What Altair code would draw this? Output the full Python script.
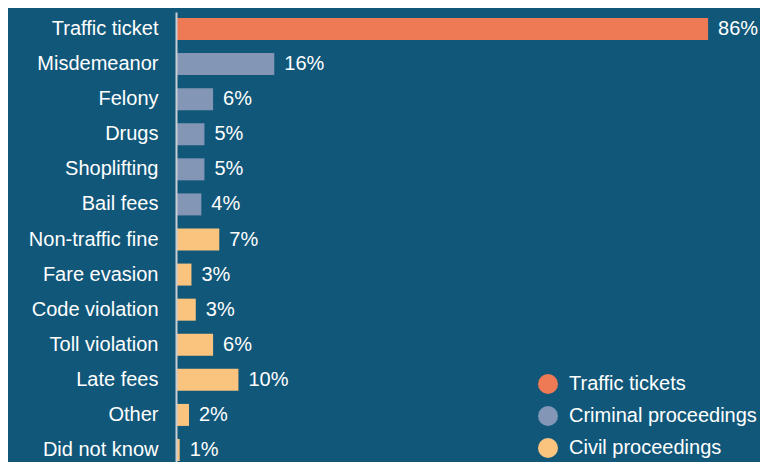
import altair as alt
import pandas as pd

categories = ["Traffic ticket", "Misdemeanor", "Felony", "Drugs", "Shoplifting",
              "Bail fees", "Non-traffic fine", "Fare evasion", "Code violation",
              "Toll violation", "Late fees", "Other", "Did not know"]
values = [86.1, 15.9, 6.0, 4.6, 4.6, 4.1, 7.0, 2.5, 3.2, 6.0, 10.1, 2.1, 0.6]
value_labels = ["86%", "16%", "6%", "5%", "5%", "4%", "7%", "3%", "3%", "6%",
                "10%", "2%", "1%"]
groups = (["Traffic tickets"] + ["Criminal proceedings"] * 5
          + ["Civil proceedings"] * 7)
group_order = ["Traffic tickets", "Criminal proceedings", "Civil proceedings"]
group_colors = ["#EE7A55", "#8396B5", "#FAC47E"]

df = pd.DataFrame({"category": categories, "value": values,
                   "label": value_labels, "group": groups})

FONT = "Liberation Sans"
BG = "#115779"

y_enc = alt.Y(
    "category:N", sort=categories, title=None,
    scale=alt.Scale(range=[0, 455], paddingInner=0.373, paddingOuter=0.171),
    axis=alt.Axis(domainColor="#C9CED4", domainWidth=2, ticks=False,
                  labelColor="white", labelFontSize=20, labelFont=FONT,
                  labelPadding=18, labelLimit=300, grid=False, zindex=1),
)
x_enc = alt.X("value:Q", scale=alt.Scale(domain=[0, 94.5], nice=False),
              axis=None)

bars = alt.Chart(df).mark_bar().encode(
    x=x_enc, y=y_enc,
    color=alt.Color(
        "group:N",
        scale=alt.Scale(domain=group_order, range=group_colors),
        legend=alt.Legend(title=None, orient="none", legendX=362, legendY=362,
                          symbolType="circle", symbolSize=400,
                          symbolStrokeWidth=0, symbolOpacity=1,
                          labelColor="white", labelFontSize=20,
                          labelFont=FONT, labelOffset=11, rowPadding=12,
                          padding=0, labelLimit=300),
    ),
)

text = alt.Chart(df).mark_text(
    align="left", baseline="middle", dx=10, color="white",
    fontSize=20, font=FONT,
).encode(x=x_enc, y=y_enc, text="label:N")

chart = (bars + text).properties(
    width=584, height=450, background=BG,
    padding={"left": 168, "top": 4, "right": 0, "bottom": 0},
    autosize=alt.AutoSizeParams(type="none"),
).configure_view(stroke=None)

chart.save("out.html", embed_options={"renderer": "svg", "actions": False})
